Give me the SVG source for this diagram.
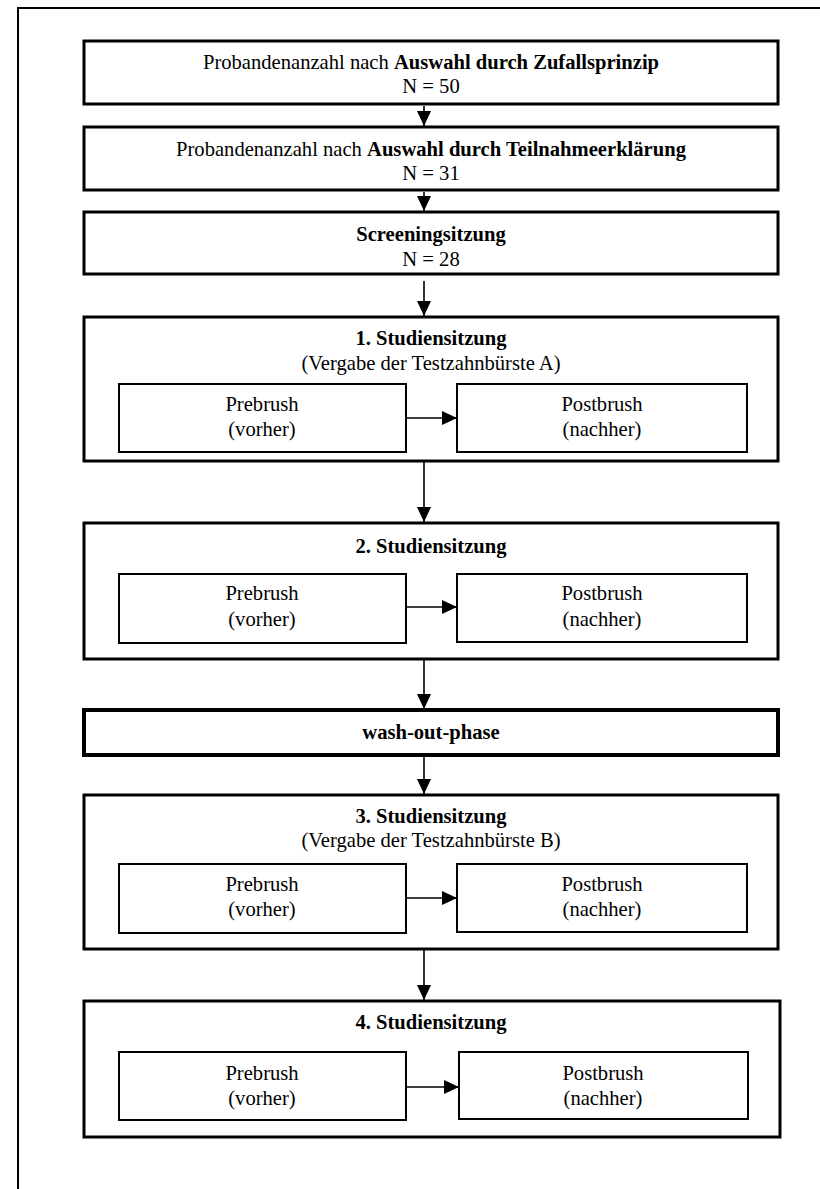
<svg xmlns="http://www.w3.org/2000/svg" width="820" height="1189" viewBox="0 0 820 1189">
<defs>
<marker id="ah" markerUnits="userSpaceOnUse" markerWidth="15" markerHeight="14" refX="15" refY="7" orient="auto">
<path d="M0,0 L15,7 L0,14 z" fill="#000"/>
</marker>
<style>
.t{font-family:"Liberation Serif","Times New Roman",serif;font-size:20.6px;fill:#000;text-anchor:middle}
.b{font-weight:bold}
.box{fill:#fff;stroke:#000;stroke-width:3}
.inner{fill:#fff;stroke:#000;stroke-width:2}
.thick{fill:#fff;stroke:#000;stroke-width:4}
.frame{fill:none;stroke:#000;stroke-width:2}
.c{stroke:#000;stroke-width:1.6;fill:none;marker-end:url(#ah)}
</style>
</defs>
<rect width="820" height="1189" fill="#fff"/>
<path class="frame" d="M18,1189 L18,8 L820,8"/>

<g id="n1">
<rect class="box" x="84" y="41" width="694" height="63"/>
<text class="t" x="431" y="69">Probandenanzahl nach <tspan class="b">Auswahl durch Zufallsprinzip</tspan></text>
<text class="t" x="431" y="93">N = 50</text>
</g>
<g id="n2">
<rect class="box" x="84" y="127" width="694" height="63"/>
<text class="t" x="431" y="156">Probandenanzahl nach <tspan class="b">Auswahl durch Teilnahmeerklärung</tspan></text>
<text class="t" x="431" y="180">N = 31</text>
</g>
<g id="n3">
<rect class="box" x="84" y="212" width="694" height="62"/>
<text class="t b" x="431" y="241">Screeningsitzung</text>
<text class="t" x="431" y="266">N = 28</text>
</g>

<g id="s1">
<rect class="box" x="84" y="317" width="694" height="144"/>
<text class="t b" x="431" y="345">1. Studiensitzung</text>
<text class="t" x="431" y="370">(Vergabe der Testzahnbürste A)</text>
<g id="s1pre"><rect class="inner" x="119" y="384" width="287" height="68"/>
<text class="t" x="262" y="411">Prebrush</text><text class="t" x="262" y="436">(vorher)</text></g>
<g id="s1post"><rect class="inner" x="457" y="384" width="290" height="68"/>
<text class="t" x="602" y="411">Postbrush</text><text class="t" x="602" y="436">(nachher)</text></g>
</g>

<g id="s2">
<rect class="box" x="84" y="523" width="694" height="136"/>
<text class="t b" x="431" y="553">2. Studiensitzung</text>
<g id="s2pre"><rect class="inner" x="119" y="574" width="287" height="69"/>
<text class="t" x="262" y="600">Prebrush</text><text class="t" x="262" y="626">(vorher)</text></g>
<g id="s2post"><rect class="inner" x="457" y="574" width="290" height="68"/>
<text class="t" x="602" y="600">Postbrush</text><text class="t" x="602" y="626">(nachher)</text></g>
</g>

<g id="wash">
<rect class="thick" x="84" y="710" width="694" height="45"/>
<text class="t b" x="431" y="739">wash-out-phase</text>
</g>

<g id="s3">
<rect class="box" x="84" y="795" width="694" height="154"/>
<text class="t b" x="431" y="823">3. Studiensitzung</text>
<text class="t" x="431" y="847">(Vergabe der Testzahnbürste B)</text>
<g id="s3pre"><rect class="inner" x="119" y="864" width="287" height="69"/>
<text class="t" x="262" y="891">Prebrush</text><text class="t" x="262" y="916">(vorher)</text></g>
<g id="s3post"><rect class="inner" x="457" y="864" width="290" height="68"/>
<text class="t" x="602" y="891">Postbrush</text><text class="t" x="602" y="916">(nachher)</text></g>
</g>

<g id="s4">
<rect class="box" x="84" y="1001" width="696" height="136"/>
<text class="t b" x="431" y="1029">4. Studiensitzung</text>
<g id="s4pre"><rect class="inner" x="119" y="1052" width="287" height="68"/>
<text class="t" x="262" y="1080">Prebrush</text><text class="t" x="262" y="1105">(vorher)</text></g>
<g id="s4post"><rect class="inner" x="459" y="1052" width="289" height="67"/>
<text class="t" x="603" y="1080">Postbrush</text><text class="t" x="603" y="1105">(nachher)</text></g>
</g>

<g id="connectors">
<line class="c" x1="424" y1="106" x2="424" y2="126"/>
<line class="c" x1="424" y1="192" x2="424" y2="211"/>
<line class="c" x1="424" y1="281" x2="424" y2="316"/>
<line class="c" x1="424" y1="462" x2="424" y2="522"/>
<line class="c" x1="424" y1="660" x2="424" y2="709"/>
<line class="c" x1="424" y1="757" x2="424" y2="794"/>
<line class="c" x1="424" y1="950" x2="424" y2="1000"/>
<line class="c" x1="406" y1="418" x2="457" y2="418"/>
<line class="c" x1="406" y1="607" x2="457" y2="607"/>
<line class="c" x1="406" y1="898" x2="457" y2="898"/>
<line class="c" x1="406" y1="1087" x2="459" y2="1087"/>
</g>
</svg>
